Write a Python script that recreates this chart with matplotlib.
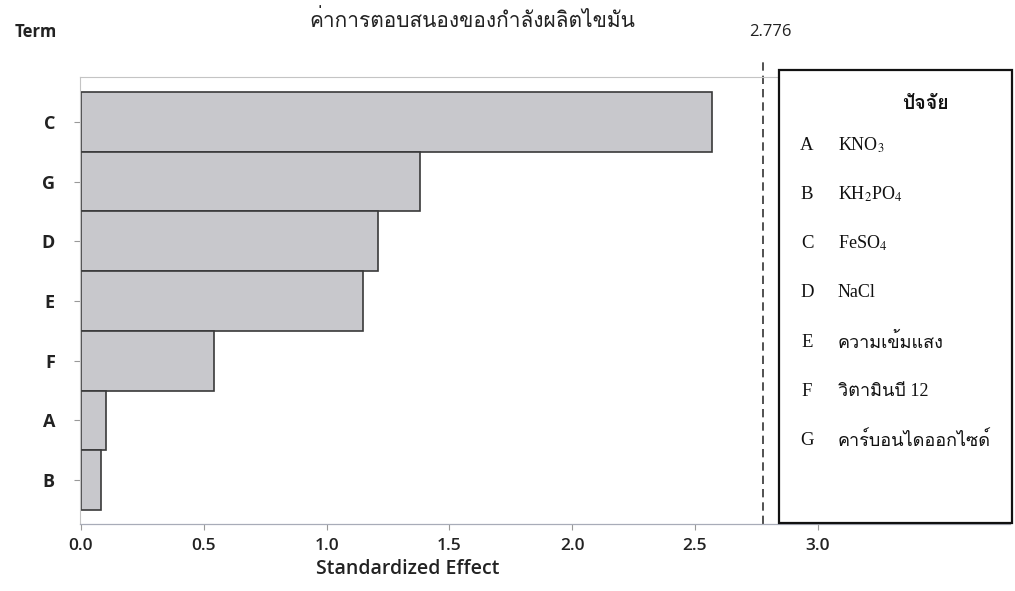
import matplotlib
matplotlib.use("Agg")
import matplotlib.pyplot as plt
from matplotlib import font_manager, ft2font
from matplotlib.patches import Rectangle

# data
terms = ["C", "G", "D", "E", "F", "A", "B"]
effects = [2.57, 1.38, 1.21, 1.15, 0.54, 0.10, 0.08]
critical = 2.776
xticks = [0.0, 0.5, 1.0, 1.5, 2.0, 2.5, 3.0]
factor_codes = ["A", "B", "C", "D", "E", "F", "G"]
factor_names = ["KNO$_3$", "KH$_2$PO$_4$", "FeSO$_4$", "NaCl",
                "ความเข้มแสง", "วิตามินบี 12", "คาร์บอนไดออกไซด์"]
title = "ค่าการตอบสนองของกำลังผลิตไขมัน"


def find_thai():
    # first installed font that has Thai glyphs
    for f in font_manager.fontManager.ttflist:
        try:
            cm = ft2font.FT2Font(f.fname).get_charmap()
        except Exception:
            continue
        if 0x0E04 in cm:
            return f.name
    return "DejaVu Sans"


thai = find_thai()
plt.rcParams["mathtext.fontset"] = "stix"

W, H = 1015, 591
fig = plt.figure(figsize=(W / 100, H / 100), dpi=100)


def fx(px):
    return px / W


def fy(py):
    return (H - py) / H


ax = fig.add_axes([fx(80), fy(524), fx(1010) - fx(80), fy(77) - fy(524)])
ax.barh(range(len(terms)), effects, height=1.0, color="#c8c8cc",
        edgecolor="#3a3a3a", linewidth=1.2)
ax.set_xlim(-0.004, 3.783)
ax.set_ylim(6.735, -0.75)
ax.set_yticks(range(len(terms)))
ax.set_yticklabels(terms, fontfamily="Open Sans", fontweight="bold",
                   fontsize=13, color="#222222")
ax.set_xticks(xticks)
ax.set_xticklabels([f"{v:.1f}" for v in xticks], fontfamily="Open Sans",
                   fontweight="semibold", fontsize=12.5, color="#222222")
ax.tick_params(axis="both", length=4, color="#999999", width=0.8)
ax.tick_params(axis="y", pad=14)
ax.tick_params(axis="x", pad=6)
for s in ["left", "top"]:
    ax.spines[s].set_color("#c4c4c4")
    ax.spines[s].set_linewidth(0.8)
ax.spines["bottom"].set_color("#a8acb8")
ax.spines["bottom"].set_linewidth(0.9)
ax.spines["right"].set_visible(False)

ax.axvline(critical, ymin=0, ymax=1.038, color="#333333", linewidth=1.2,
           linestyle=(0, (5, 3)), clip_on=False)

fig.text(fx(770), fy(32), f"{critical:.3f}", ha="center", va="center",
         fontfamily="Open Sans", fontsize=12, color="#222222")
fig.text(fx(36), fy(32), "Term", ha="center", va="center",
         fontfamily="Open Sans", fontweight="bold", fontsize=12, color="#222222")
fig.text(fx(408), fy(569), "Standardized Effect", ha="center", va="center",
         fontfamily="Open Sans", fontweight="semibold", fontsize=14,
         color="#222222")
fig.text(fx(472), fy(20), title, ha="center", va="center",
         fontfamily=[thai, "DejaVu Sans"], fontsize=15, color="#222222")

# factor legend box
box = Rectangle((fx(779), fy(523)), fx(1012) - fx(779), fy(70) - fy(523),
                transform=fig.transFigure, facecolor="white",
                edgecolor="#111111", linewidth=1.6, zorder=5)
fig.add_artist(box)
fig.text(fx(925), fy(104), "ปัจจัย", ha="center", va="center",
         fontfamily=[thai, "Liberation Serif"], fontweight="bold",
         fontsize=14, color="#111111", zorder=6)
for i, (code, name) in enumerate(zip(factor_codes, factor_names)):
    yy = 145 + i * 49.3
    fig.text(fx(807), fy(yy), code, ha="center", va="center",
             fontfamily="Liberation Serif", fontsize=13.5, color="#111111",
             zorder=6)
    fig.text(fx(838), fy(yy), name, ha="left", va="center",
             fontfamily=["Liberation Serif", thai], fontsize=13,
             color="#111111", zorder=6)

fig.savefig("out.png", dpi=100)
